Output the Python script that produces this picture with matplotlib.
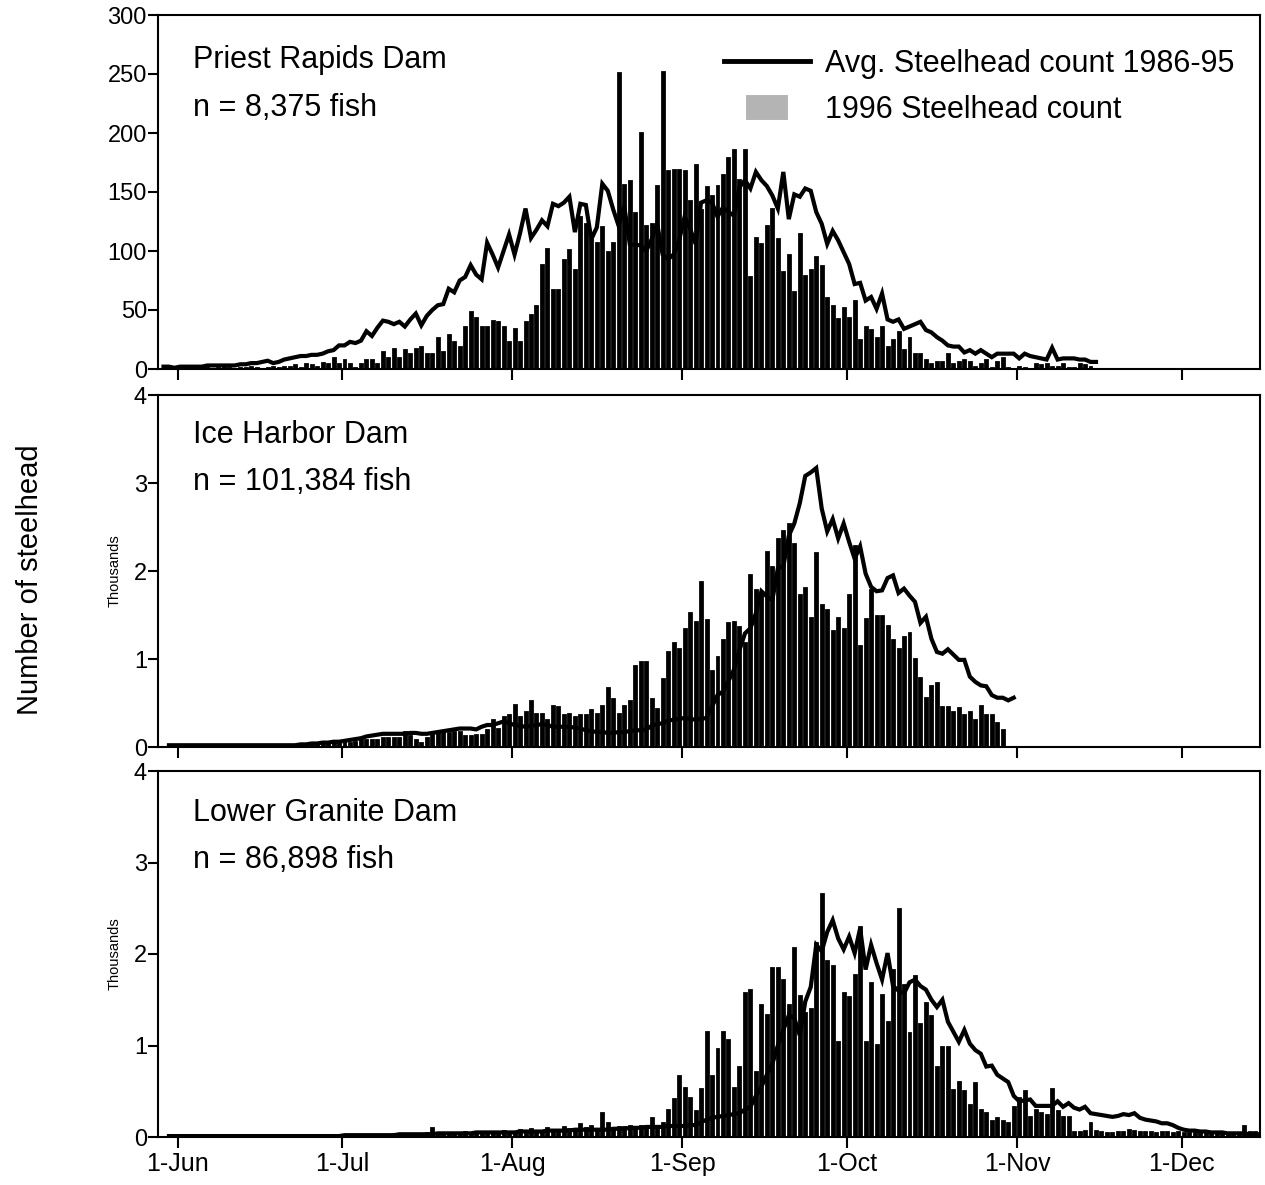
import numpy as np
import matplotlib
matplotlib.use("Agg")
import matplotlib.pyplot as plt
import matplotlib.dates as mdates
import matplotlib.patches as mpatches
from matplotlib.legend_handler import HandlerPatch
from matplotlib.lines import Line2D

plt.rcParams['font.family'] = ['Liberation Sans', 'DejaVu Sans']

# daily counts, each series starts on the given date
priest_bar_start = '1996-06-01'
priest_bars = [1, 0, 1, 0, 1, 1, 0, 1, 2, 1, 0, 1, 1, 2, 1, 0, 1, 2, 1, 2,
               2, 3, 1, 4, 3, 2, 5, 4,
               9, 4, 8, 4, 1, 4, 8, 8, 4, 14, 9, 17, 9, 16, 13, 17, 19, 13, 13, 26, 14, 29,
               23, 19, 36, 48, 43, 36, 36, 41, 40, 36, 23, 34, 23, 40, 46, 53, 88, 102, 67, 67,
               92, 101, 84, 129, 123, 109, 107, 120, 99, 107, 251, 156, 159, 132, 200, 121, 123, 155, 252, 168,
               169, 169, 168, 142, 173, 135, 154, 147, 155, 164, 179, 186, 160, 186, 78, 111, 106, 121, 136, 110,
               82, 97, 65, 114, 79, 84, 95, 87, 60, 53, 42, 52, 43, 58, 25, 36, 33, 26, 36, 19,
               25, 31, 16, 26, 13, 13, 8, 4, 6, 6, 13, 4, 6, 8, 6, 2, 4, 8, 1, 6,
               9, 1, 0, 2, 1, 0, 4, 3, 4, 2, 2, 4, 1, 1, 4, 3, 2]
priest_avg_start = '1996-05-29'
priest_avg = [2, 2, 1, 2, 2, 2, 2, 2, 3, 3, 3, 3, 3,
              3, 4, 4, 5, 5, 6, 7, 5, 6, 8, 9, 10, 11, 11, 12, 12, 13, 15,
              16, 20, 20, 23, 22, 24, 32, 28, 35, 41, 40, 38, 40, 36, 42, 47, 37, 45, 50, 54,
              55, 68, 65, 75, 78, 88, 80, 76, 107, 97, 86, 100,
              114, 97, 115, 136, 111, 118, 126, 121, 140, 138, 141, 146, 116, 140, 139, 110, 120, 157,
              151, 135, 121, 138, 106, 105, 105, 100, 110, 123, 97, 93, 97, 109, 129, 119,
              106, 141, 143, 141, 129, 137, 133, 130, 154, 160, 153, 167, 160, 155, 147, 136, 167, 127,
              148, 146, 153, 151, 133, 123, 106, 117, 109, 99, 89, 72, 73, 58, 61, 51, 64, 42,
              40, 42, 34, 36, 38, 40, 33, 31, 27, 24, 20, 19, 19, 14, 16, 13, 16, 13, 10, 13,
              13, 13, 13, 9, 13, 11, 10, 9, 8, 18, 8, 9, 9, 9, 8, 8, 6, 6]

# Ice Harbor and Lower Granite in thousands of fish
ice_bar_start = '1996-06-23'
ice_bars = [0.02, 0.03, 0.02, 0.03, 0.04, 0.03, 0.04,
            0.05, 0.06, 0.05, 0.06, 0.08, 0.08, 0.08, 0.08,
            0.10, 0.10, 0.10, 0.10, 0.17, 0.12, 0.08, 0.04, 0.10, 0.16, 0.17, 0.17, 0.16, 0.17,
            0.17, 0.12, 0.12, 0.14, 0.14, 0.19, 0.31, 0.20, 0.34, 0.36, 0.48, 0.34, 0.40, 0.52,
            0.38, 0.38, 0.31, 0.47, 0.45, 0.36, 0.38, 0.34, 0.36, 0.36, 0.42, 0.38, 0.47, 0.67,
            0.54, 0.38, 0.47, 0.52, 0.92, 0.97, 0.97, 0.54, 0.43, 0.77, 1.08, 1.18, 1.11, 1.34,
            1.52, 1.42,
            1.88, 1.44, 0.86, 1.02, 1.22, 1.41, 1.42, 1.36, 1.18, 1.95, 1.78, 1.73, 2.22, 2.05,
            2.36, 2.46, 2.53, 2.31, 1.73, 1.81, 1.47, 2.20, 1.61, 1.56, 1.32, 1.47, 1.34, 1.73,
            2.28, 1.15, 1.45, 1.78, 1.49, 1.49, 1.38, 1.22, 1.11, 1.25, 1.29, 1.00, 0.78, 0.56,
            0.69, 0.73, 0.45, 0.45, 0.40, 0.44, 0.36, 0.40, 0.31, 0.47, 0.36, 0.36, 0.27, 0.19]
ice_avg_start = '1996-05-30'
ice_avg = [0.02] * 23 + [
    0.02, 0.03, 0.03, 0.04, 0.04, 0.05, 0.05, 0.06, 0.06, 0.07, 0.08, 0.09, 0.10, 0.12, 0.13, 0.14,
    0.15, 0.15, 0.15, 0.15, 0.15, 0.16, 0.16, 0.15, 0.15, 0.16, 0.17, 0.18, 0.19, 0.20, 0.21, 0.21,
    0.21, 0.20, 0.23, 0.25, 0.25, 0.27, 0.29, 0.27, 0.25, 0.24, 0.23, 0.24, 0.25, 0.26, 0.25, 0.23,
    0.23, 0.23, 0.23, 0.22, 0.21, 0.19, 0.18, 0.17, 0.17, 0.16, 0.16, 0.17, 0.17, 0.18, 0.19, 0.19,
    0.20, 0.24, 0.26, 0.27, 0.30, 0.31, 0.32, 0.33, 0.32, 0.31, 0.32, 0.33,
    0.46, 0.59, 0.63, 0.75, 0.88, 1.10, 1.29, 1.35, 1.52, 1.77, 1.71, 1.67, 2.03, 2.05, 2.40, 2.54,
    2.77, 3.08, 3.12, 3.17, 2.71, 2.45, 2.59, 2.37, 2.54, 2.33, 2.14, 2.28, 1.97, 1.82, 1.77, 1.78,
    1.92, 1.95, 1.75, 1.80, 1.72, 1.65, 1.41, 1.48, 1.23, 1.08, 1.06, 1.11, 1.05, 0.99, 0.99, 0.80,
    0.74, 0.70, 0.69, 0.59, 0.56, 0.56, 0.53, 0.56]

granite_bar_start = '1996-07-09'
granite_bars = [0.02, 0.03, 0.02, 0.03, 0.02, 0.03, 0.03, 0.04, 0.10, 0.03, 0.03, 0.04, 0.03,
                0.04, 0.05, 0.04, 0.03, 0.05, 0.06, 0.04, 0.05, 0.07, 0.06, 0.05, 0.08, 0.06,
                0.09, 0.07, 0.06, 0.10, 0.08, 0.07, 0.11, 0.09, 0.08, 0.14, 0.10, 0.12, 0.09,
                0.26, 0.15, 0.08, 0.11, 0.11, 0.12, 0.11, 0.12, 0.11, 0.21,
                0.11, 0.15, 0.30, 0.41, 0.67, 0.54, 0.43, 0.28, 0.52, 1.15,
                0.67, 0.96, 1.15, 1.06, 0.54, 0.76, 1.57, 1.61, 0.71, 1.44,
                1.33, 1.85, 1.85, 1.72, 1.44, 2.07, 1.54, 1.35, 1.40, 2.12,
                2.66, 1.92, 1.87, 1.04, 1.57, 1.53, 1.77, 2.29, 1.04, 1.68,
                1.01, 1.55, 1.26, 1.83, 2.49, 1.66, 1.14, 1.76, 1.24, 1.46,
                1.32, 0.76, 0.98, 0.98, 0.51, 0.60, 0.50, 0.35, 0.59, 0.30,
                0.26, 0.17, 0.21,
                0.17, 0.15, 0.33, 0.43, 0.50, 0.22, 0.30, 0.26, 0.24, 0.52, 0.28, 0.22, 0.22,
                0.05, 0.05, 0.07, 0.15, 0.07, 0.06, 0.04, 0.04, 0.05, 0.05, 0.08, 0.07, 0.06,
                0.05, 0.05, 0.04, 0.05, 0.06, 0.04, 0.05, 0.04, 0.04, 0.04, 0.06, 0.05, 0.05,
                0.06, 0.04, 0.04, 0.04, 0.03, 0.12, 0.06, 0.05]
granite_avg_start = '1996-05-30'
granite_avg = [0.01] * 32 + [
    0.02, 0.02, 0.02, 0.02, 0.02, 0.02, 0.02, 0.02, 0.02, 0.02, 0.03, 0.03, 0.03, 0.03, 0.03, 0.03,
    0.03, 0.04, 0.04, 0.04, 0.04, 0.04, 0.04, 0.04, 0.05, 0.05, 0.05, 0.05, 0.05, 0.05, 0.05, 0.05,
    0.06, 0.06, 0.06, 0.06, 0.06, 0.07, 0.07, 0.07, 0.07, 0.07, 0.08, 0.08, 0.08, 0.08, 0.08,
    0.08, 0.08, 0.09, 0.09, 0.09, 0.10, 0.10, 0.10, 0.11, 0.11, 0.11, 0.11, 0.12, 0.12,
    0.12, 0.12, 0.13, 0.13, 0.16, 0.19, 0.21, 0.22, 0.23, 0.24, 0.25, 0.26, 0.30, 0.33, 0.45, 0.55,
    0.68, 0.80, 1.00, 1.17,
    1.33, 1.30, 1.11, 1.48, 1.64, 2.10, 2.03, 2.24, 2.37, 2.17, 2.05, 2.19, 2.01, 2.28, 1.83, 2.10,
    1.90, 1.72, 2.01, 1.65,
    1.60, 1.57, 1.69, 1.72, 1.65, 1.61, 1.50, 1.42, 1.50, 1.26, 1.15, 1.04, 1.17, 1.02, 0.95, 0.91,
    0.77, 0.78, 0.68, 0.64,
    0.60, 0.45, 0.39, 0.40, 0.41, 0.34, 0.34, 0.34, 0.34, 0.39, 0.33, 0.37, 0.32, 0.30, 0.33, 0.26,
    0.25, 0.24, 0.23, 0.22,
    0.23, 0.25, 0.24, 0.26, 0.21, 0.19, 0.18, 0.17, 0.15, 0.15, 0.13, 0.10, 0.08, 0.07, 0.07, 0.06,
    0.06, 0.05, 0.05, 0.05,
    0.04, 0.04, 0.04, 0.04, 0.03, 0.03, 0.03]

dam_names = ['Priest Rapids Dam', 'Ice Harbor Dam', 'Lower Granite Dam']
fish_totals = ['n = 8,375 fish', 'n = 101,384 fish', 'n = 86,898 fish']
legend_labels = ['Avg. Steelhead count 1986-95', '1996 Steelhead count']


def day_axis(start, n):
    return mdates.datestr2num(start) + np.arange(n)


def small_box(legend, orig_handle, xdescent, ydescent, width, height, fontsize):
    w = width * 0.52
    h = height * 1.25
    return mpatches.Rectangle((-xdescent + (width - w) / 2, -ydescent - (h - height) / 2), w, h)


W, H = 1265, 1185
fig = plt.figure(figsize=(W / 100, H / 100), dpi=100)

# panel boxes in pixels: top, bottom
boxes = [(15, 369), (395, 747), (771, 1137)]
left_px, right_px = 158, 1260

series = [
    (priest_bar_start, priest_bars, priest_avg_start, priest_avg, 300, 50),
    (ice_bar_start, ice_bars, ice_avg_start, ice_avg, 4, 1),
    (granite_bar_start, granite_bars, granite_avg_start, granite_avg, 4, 1),
]
name_y = [(0.873, 0.738), (0.886, 0.753), (0.885, 0.757)]

jun1 = mdates.datestr2num('1996-06-01')
axes = []
for i, ((bstart, bvals, lstart, lvals, ytop, ystep), (top, bot)) in enumerate(zip(series, boxes)):
    ax = fig.add_axes([left_px / W, 1 - bot / H, (right_px - left_px) / W, (bot - top) / H])
    axes.append(ax)
    ax.bar(day_axis(bstart, len(bvals)) + 0.4, bvals, width=0.36, facecolor='white',
           edgecolor='black', linewidth=2.0, zorder=2)
    ax.plot(day_axis(lstart, len(lvals)) + 0.4, lvals, color='black', lw=3,
            solid_joinstyle='miter', zorder=3)
    ax.set_xlim(jun1 - 3.6, jun1 + 197.3)
    ax.set_ylim(0, ytop)
    ax.set_yticks(np.arange(0, ytop + ystep / 2, ystep))
    ax.xaxis.set_major_locator(mdates.MonthLocator(bymonthday=1))
    ax.xaxis.set_major_formatter(mdates.DateFormatter('%-d-%b'))
    ax.tick_params(axis='both', direction='out', width=1.5, color='black')
    ax.tick_params(axis='y', length=7, labelsize=17, pad=1)
    ax.tick_params(axis='x', length=8, labelsize=18, pad=3)
    for s in ax.spines.values():
        s.set_linewidth(1.5)
    if i < 2:
        ax.tick_params(axis='x', labelbottom=False)
    if i > 0:
        ax.set_ylabel('Thousands', fontsize=10.5)
        ax.yaxis.set_label_coords(-0.0327, 0.5)
    ax.text(0.032, name_y[i][0], dam_names[i], transform=ax.transAxes,
            fontsize=22, ha='left', va='center')
    ax.text(0.032, name_y[i][1], fish_totals[i], transform=ax.transAxes,
            fontsize=22, ha='left', va='center')

line_handle = Line2D([], [], color='black', lw=3.5)
box_handle = mpatches.Patch(facecolor='#b4b4b4', edgecolor='white', linewidth=1.5)
axes[0].legend([line_handle, box_handle], legend_labels, loc='upper right',
               bbox_to_anchor=(0.977, 0.905), frameon=False, fontsize=22,
               handlelength=2.8, handletextpad=0.5, labelspacing=0.55, borderpad=0,
               borderaxespad=0, handler_map={mpatches.Patch: HandlerPatch(patch_func=small_box)})

fig.text(30 / W, 1 - 580 / H, 'Number of steelhead', rotation=90,
         ha='center', va='center', fontsize=21)

fig.savefig('out.png', dpi=100)
